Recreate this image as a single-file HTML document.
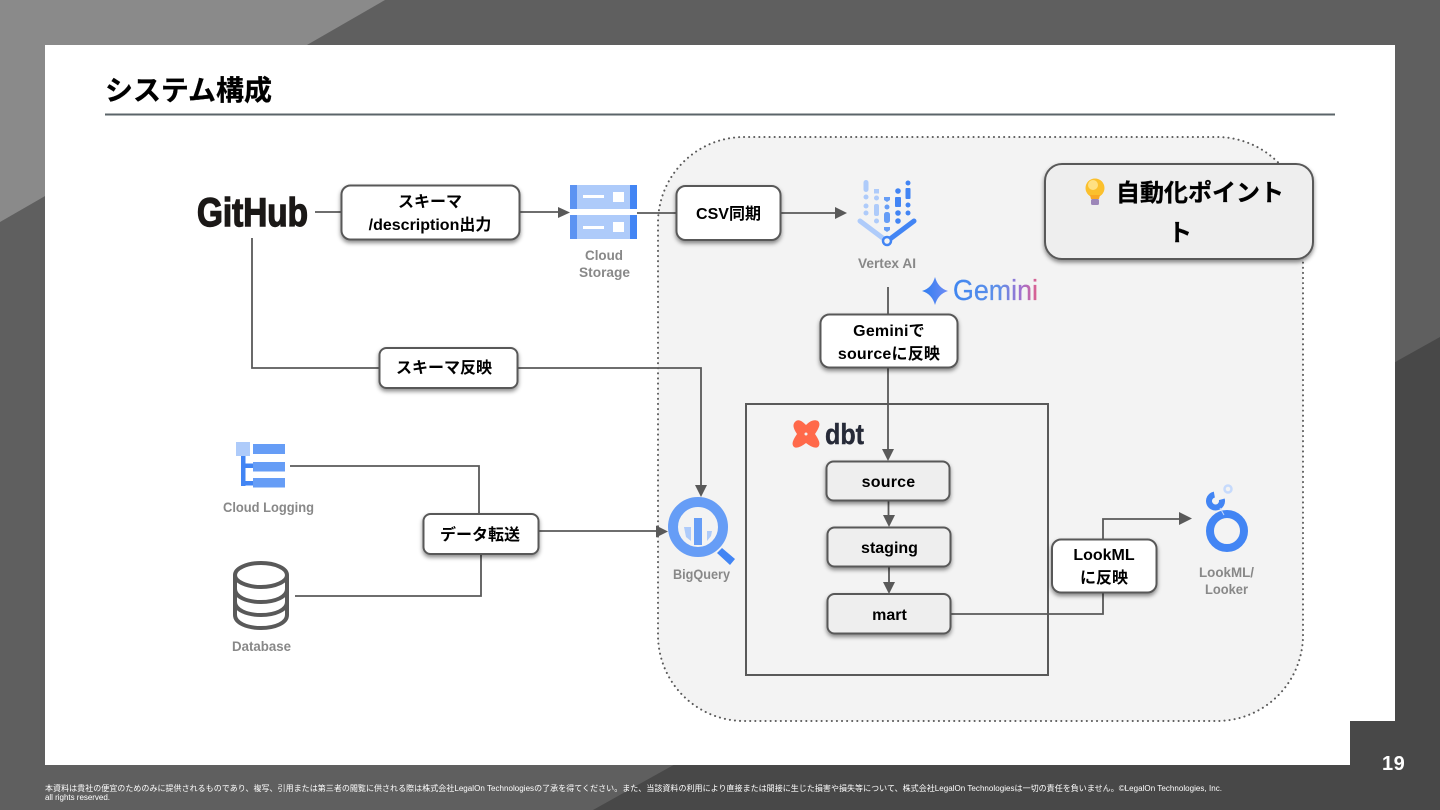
<!DOCTYPE html>
<html lang="ja"><head><meta charset="utf-8"><title>システム構成</title>
<style>
html,body{margin:0;padding:0;width:1440px;height:810px;overflow:hidden;background:#5f5f5f}
svg{display:block}
text{font-family:"Liberation Sans","Noto Sans CJK JP",sans-serif}
.b{font-weight:700;font-size:16px;fill:#000;text-anchor:middle}
.g{font-weight:700;font-size:14px;fill:#888;text-anchor:middle}
.l{fill:none;stroke:#595959;stroke-width:1.8}
.c{stroke:#595959;stroke-width:2;filter:url(#s)}
</style></head><body>
<svg width="1440" height="810" viewBox="0 0 1440 810" xmlns="http://www.w3.org/2000/svg">
<defs>
<filter id="s" x="-15%" y="-20%" width="130%" height="150%"><feDropShadow dx="0" dy="2.5" stdDeviation="2" flood-color="#000" flood-opacity=".45"/></filter>
<linearGradient id="gm" x1="0" x2="1" y1="0" y2="0"><stop offset="0" stop-color="#3f86f0"/><stop offset=".55" stop-color="#5f8fe8"/><stop offset=".8" stop-color="#a070d0"/><stop offset="1" stop-color="#e0608a"/></linearGradient>
<linearGradient id="gs" x1="0" x2="1" y1="0" y2="0"><stop offset="0" stop-color="#2f7df0"/><stop offset="1" stop-color="#6f8cf5"/></linearGradient>
</defs>
<rect width="1440" height="810" fill="#5f5f5f"/>
<polygon points="0,0 385,0 0,222" fill="#8a8a8a"/>
<polygon points="1440,337 593,810 1440,810" fill="#484848"/>
<rect x="45" y="45" width="1350" height="720" fill="#fff"/>
<rect x="1350" y="721" width="45" height="44" fill="#484848"/>

<text x="105" y="100" font-size="28" font-weight="700" fill="#000" stroke="#000" stroke-width=".3" textLength="167">システム構成</text>
<line x1="105" y1="114.500" x2="1335" y2="114.500" stroke="#5b6469" stroke-width="2"/>

<rect x="658" y="137" width="645" height="584" rx="86" fill="#f3f3f3" stroke="#595959" stroke-width="2" stroke-dasharray="0.1 5" stroke-linecap="round"/>
<rect x="746" y="404" width="302" height="271" fill="#f3f3f3" stroke="#595959" stroke-width="2"/>

<!-- connectors -->
<path class="l" d="M315 212H341M520 212H560M637 213H676M781 213H836M888 287V314M888 368V450M252 238V368H379M518 368H701V486M290 466H479V514M295 596H481V554M539 531H657M888.500 501V516M889 567V583M951 614H1103V593M1103 539V519H1181"/>
<g fill="#595959">
<polygon points="570,212.500 558,207 558,218"/>
<polygon points="847,213 835,207 835,219"/>
<polygon points="888,461 882,449 894,449"/>
<polygon points="701,497 695,485 707,485"/>
<polygon points="668,531.500 656,525.500 656,537.500"/>
<polygon points="889,527 883,515 895,515"/>
<polygon points="889,594 883,582 895,582"/>
<polygon points="1192,518.500 1179,512 1179,525"/>
</g>

<!-- GitHub -->
<text x="197" y="226" font-size="40" font-weight="700" fill="#1b1817" stroke="#1b1817" stroke-width="1.400" textLength="111" lengthAdjust="spacingAndGlyphs">GitHub</text>

<!-- Cards -->
<rect class="c" x="341.500" y="185.500" width="178" height="54" rx="9" fill="#fff"/>
<text class="b" x="430" y="207">スキーマ</text>
<text class="b" x="430" y="230">/description出力</text>
<rect class="c" x="676.500" y="186" width="104" height="54" rx="9" fill="#fff"/>
<text class="b" x="728.500" y="219">CSV同期</text>
<rect class="c" x="820.500" y="314.500" width="137" height="53" rx="9" fill="#fff"/>
<text class="b" x="889" y="336" letter-spacing=".2">Geminiで</text>
<text class="b" x="889" y="359" letter-spacing=".2">sourceに反映</text>
<rect class="c" x="379.500" y="348" width="138" height="40" rx="7" fill="#fff"/>
<text class="b" x="444" y="373">スキーマ反映</text>
<rect class="c" x="423.500" y="514" width="115" height="40" rx="7" fill="#fff"/>
<text class="b" x="480" y="540">データ転送</text>
<rect class="c" x="826.500" y="461.500" width="123" height="39" rx="7" fill="#eee"/>
<text class="b" x="888.500" y="487" letter-spacing=".2">source</text>
<rect class="c" x="827.500" y="527.500" width="123" height="39" rx="7" fill="#eee"/>
<text class="b" x="889.500" y="553">staging</text>
<rect class="c" x="827.500" y="594" width="123" height="39.500" rx="7" fill="#eee"/>
<text class="b" x="889.500" y="620">mart</text>
<rect class="c" x="1052" y="539.500" width="104.500" height="53" rx="9" fill="#fff"/>
<text class="b" x="1104" y="560">LookML</text>
<text class="b" x="1104" y="583">に反映</text>
<rect class="c" x="1045" y="164" width="268" height="95" rx="17" fill="#eee"/>
<text x="1116" y="201" font-size="24" font-weight="700" fill="#000" stroke="#000" stroke-width=".3">自動化ポイント</text>
<text x="1180" y="241" font-size="24" font-weight="700" fill="#000" stroke="#000" stroke-width=".3" text-anchor="middle">ト</text>
<!-- bulb -->
<circle cx="1095" cy="188" r="9.500" fill="#fbc02d"/>
<circle cx="1093" cy="185" r="5" fill="#ffe082"/>
<path d="M1090 195H1100L1099 199H1091Z" fill="#f9a825"/>
<rect x="1091" y="199" width="8" height="6" rx="1.500" fill="#9c86b8"/>

<!-- Cloud Storage -->
<g>
<rect x="570" y="185" width="67" height="24" fill="#aecbfa"/><rect x="570" y="215" width="67" height="24" fill="#aecbfa"/>
<rect x="570" y="185" width="7" height="24" fill="#5c93f2"/><rect x="570" y="215" width="7" height="24" fill="#5c93f2"/>
<polygon points="630,185 637,185 637,209 630,209" fill="#4285f4"/><polygon points="630,215 637,215 637,239 630,239" fill="#4285f4"/>
<rect x="583" y="195" width="21" height="3" fill="#fff"/><rect x="583" y="226" width="21" height="3" fill="#fff"/>
<rect x="613" y="192" width="11" height="10" fill="#fff"/><rect x="613" y="222" width="11" height="10" fill="#fff"/>
</g>
<text class="g" x="604" y="260" textLength="38" lengthAdjust="spacingAndGlyphs">Cloud</text>
<text class="g" x="604.500" y="277" textLength="51" lengthAdjust="spacingAndGlyphs">Storage</text>

<!-- Vertex AI -->
<g fill="#aecbfa">
<rect x="863.500" y="180" width="5" height="12" rx="2.500"/>
<circle cx="866" cy="197" r="2.500"/>
<circle cx="866" cy="206" r="2.500"/>
<circle cx="866" cy="213" r="2.500"/>
<rect x="874" y="189" width="5" height="4.500"/>
<circle cx="876.500" cy="198" r="2.500"/>
<rect x="874" y="204" width="5" height="12" rx="2"/>
<circle cx="876.500" cy="221" r="2.500"/>
</g>
<path d="M860 221L884 239" stroke="#aecbfa" stroke-width="5" stroke-linecap="round" fill="none"/>
<g fill="#669df6">
<path d="M884 197H890V200L887 202L884 200Z"/>
<circle cx="887" cy="207" r="2.500"/>
<rect x="884" y="212" width="6" height="11" rx="2.500"/>
<path d="M884 227H890V230L887 232L884 230Z"/>
</g>
<g fill="#4285f4">
<circle cx="898" cy="191" r="2.800"/>
<rect x="895" y="197" width="6" height="10" rx="1"/>
<circle cx="898" cy="213" r="2.800"/>
<circle cx="898" cy="221" r="2.800"/>
<circle cx="908" cy="183" r="2.500"/>
<rect x="905.500" y="188" width="5" height="11" rx="1"/>
<circle cx="908" cy="205" r="2.500"/>
<circle cx="908" cy="213" r="2.500"/>
</g>
<path d="M890 239L914 221" stroke="#4285f4" stroke-width="5" stroke-linecap="round" fill="none"/>
<circle cx="887" cy="241" r="4" fill="#f3f3f3" stroke="#4285f4" stroke-width="2.500"/>
<text class="g" x="887" y="268" textLength="58" lengthAdjust="spacingAndGlyphs">Vertex AI</text>

<!-- Gemini -->
<path d="M935 277Q938 288 948 291Q938 294 935 305Q932 294 922 291Q932 288 935 277Z" fill="url(#gs)"/>
<text x="953" y="300" font-size="29" fill="url(#gm)" stroke="url(#gm)" stroke-width=".3" textLength="85" lengthAdjust="spacingAndGlyphs">Gemini</text>

<!-- dbt -->
<path d="M796 421C799 419 802 421 806 425C810 421 814 419 818 421C821 424 819 428 815 434C819 440 821 444 818 447C815 449 810 446 806 443C802 446 797 449 794 447C791 444 793 440 797 434C793 428 792 424 796 421Z" fill="#ff694a"/>
<circle cx="806" cy="434" r="1.500" fill="#f3f3f3"/>
<text x="825" y="444" font-size="29" font-weight="700" fill="#262a38" stroke="#262a38" stroke-width=".4" textLength="39" lengthAdjust="spacingAndGlyphs">dbt</text>

<!-- BigQuery -->
<polygon points="722,548 735,559 730,565 717,553" fill="#4285f4"/>
<circle cx="698" cy="527" r="25" fill="#f3f3f3" stroke="#669df6" stroke-width="10"/>
<rect x="694" y="518" width="8" height="27" fill="#669df6"/>
<polygon points="684,527 691,527 691,541 686,537" fill="#aecbfa"/>
<polygon points="707,531 712,531 711,536 707,541" fill="#aecbfa"/>
<text class="g" x="701.500" y="579" textLength="57" lengthAdjust="spacingAndGlyphs">BigQuery</text>

<!-- Cloud Logging -->
<rect x="236" y="442" width="14" height="14" fill="#aecbfa"/>
<rect x="241" y="456" width="4.500" height="30" fill="#4285f4"/>
<rect x="245" y="463.500" width="8" height="4.500" fill="#4285f4"/>
<rect x="245" y="481" width="8" height="4.500" fill="#4285f4"/>
<rect x="253" y="444" width="32" height="10" fill="#669df6"/>
<rect x="253" y="462" width="32" height="9.500" fill="#669df6"/>
<rect x="253" y="478" width="32" height="9.500" fill="#669df6"/>
<text class="g" x="268.500" y="512" textLength="91" lengthAdjust="spacingAndGlyphs">Cloud Logging</text>

<!-- Database -->
<g fill="none" stroke="#595959" stroke-width="4">
<ellipse cx="261" cy="575" rx="26" ry="12"/>
<path d="M235 575V615C235 623 247 628 261 628S287 623 287 615V575"/>
<path d="M235 589C235 597 247 602 261 602S287 597 287 589"/>
<path d="M235 602C235 610 247 615 261 615S287 610 287 602"/>
</g>
<text class="g" x="261.500" y="651" textLength="59" lengthAdjust="spacingAndGlyphs">Database</text>

<!-- Looker -->
<circle cx="1227" cy="531" r="17" fill="none" stroke="#4285f4" stroke-width="8"/>
<circle cx="1215.500" cy="501" r="6.500" fill="none" stroke="#4285f4" stroke-width="6" stroke-dasharray="31 10" transform="rotate(-15 1215.500 501)"/>
<circle cx="1228" cy="489" r="3.500" fill="none" stroke="#c6dafc" stroke-width="2.500"/>
<path d="M1220 508L1224 515" stroke="#c6dafc" stroke-width="1"/>
<text class="g" x="1226.500" y="577" textLength="55" lengthAdjust="spacingAndGlyphs">LookML/</text>
<text class="g" x="1226.500" y="594" textLength="43" lengthAdjust="spacingAndGlyphs">Looker</text>

<!-- page no -->
<text x="1382" y="770" font-size="20" font-weight="700" fill="#fff" letter-spacing=".5">19</text>

<!-- footer -->
<text x="45" y="791" font-size="8" fill="#fff" textLength="1177">本資料は貴社の便宜のためのみに提供されるものであり、複写、引用または第三者の閲覧に供される際は株式会社LegalOn Technologiesの了承を得てください。また、当該資料の利用により直接または間接に生じた損害や損失等について、株式会社LegalOn Technologiesは一切の責任を負いません。©LegalOn Technologies, Inc.</text>
<text x="45" y="800" font-size="8" fill="#fff" textLength="65">all rights reserved.</text>
</svg>
</body></html>
